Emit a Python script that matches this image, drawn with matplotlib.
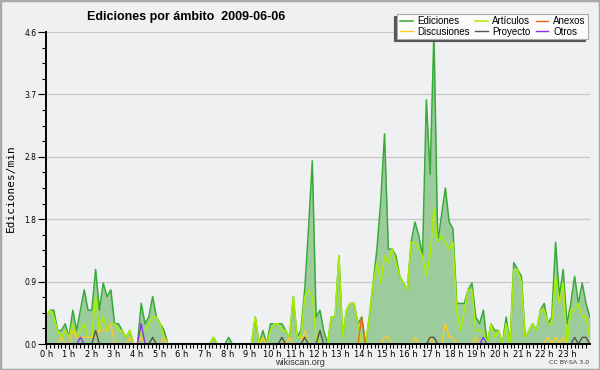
import numpy as np
import matplotlib
matplotlib.use("Agg")
import matplotlib.pyplot as plt
from matplotlib.patches import Rectangle

# edits per minute, one value per 10-minute slot (6 per hour)
ediciones = [
    0.4, 0.5, 0.5, 0.2, 0.2, 0.3,   # 0 h
    0.1, 0.5, 0.2, 0.5, 0.8, 0.5,   # 1 h
    0.5, 1.1, 0.5, 0.9, 0.7, 0.8,   # 2 h
    0.3, 0.3, 0.2, 0.1, 0.2, 0.0,   # 3 h
    0.0, 0.6, 0.3, 0.4, 0.7, 0.4,   # 4 h
    0.3, 0.2, 0.0, 0.0, 0.0, 0.0,   # 5 h
    0.0, 0.0, 0.0, 0.0, 0.0, 0.0,   # 6 h
    0.0, 0.0, 0.1, 0.0, 0.0, 0.0,   # 7 h
    0.1, 0.0, 0.0, 0.0, 0.0, 0.0,   # 8 h
    0.0, 0.4, 0.0, 0.2, 0.0, 0.3,   # 9 h
    0.3, 0.3, 0.3, 0.2, 0.1, 0.7,   # 10 h
    0.1, 0.2, 0.8, 1.7, 2.7, 0.4,   # 11 h
    0.5, 0.2, 0.0, 0.4, 0.4, 1.3,   # 12 h
    0.1, 0.5, 0.6, 0.6, 0.3, 0.4,   # 13 h
    0.0, 0.4, 0.9, 1.4, 2.1, 3.1,   # 14 h
    1.4, 1.4, 1.3, 1.0, 0.9, 0.8,   # 15 h
    1.5, 1.8, 1.6, 1.3, 3.6, 2.5,   # 16 h
    4.6, 1.5, 1.9, 2.3, 1.8, 1.7,   # 17 h
    0.6, 0.6, 0.6, 0.8, 0.9, 0.4,   # 18 h
    0.3, 0.5, 0.0, 0.3, 0.2, 0.2,   # 19 h
    0.0, 0.4, 0.0, 1.2, 1.1, 1.0,   # 20 h
    0.1, 0.2, 0.3, 0.2, 0.5, 0.6,   # 21 h
    0.3, 0.4, 1.5, 0.7, 1.1, 0.3,   # 22 h
    0.6, 1.0, 0.6, 0.9, 0.6, 0.4,   # 23 h
]

articulos = [
    0.4, 0.5, 0.4, 0.2, 0.1, 0.2,
    0.1, 0.3, 0.1, 0.2, 0.3, 0.1,
    0.1, 0.7, 0.2, 0.4, 0.2, 0.3,
    0.3, 0.2, 0.2, 0.1, 0.2, 0.0,
    0.0, 0.2, 0.2, 0.3, 0.4, 0.4,
    0.3, 0.1, 0.0, 0.0, 0.0, 0.0,
    0.0, 0.0, 0.0, 0.0, 0.0, 0.0,
    0.0, 0.0, 0.1, 0.0, 0.0, 0.0,
    0.0, 0.0, 0.0, 0.0, 0.0, 0.0,
    0.0, 0.4, 0.0, 0.1, 0.0, 0.2,
    0.3, 0.3, 0.2, 0.2, 0.1, 0.7,
    0.1, 0.1, 0.7, 0.8, 0.7, 0.1,
    0.0, 0.0, 0.0, 0.4, 0.4, 1.3,
    0.1, 0.5, 0.6, 0.6, 0.3, 0.0,
    0.0, 0.4, 0.9, 1.2, 0.9, 1.3,
    1.2, 1.4, 1.2, 1.0, 0.9, 0.8,
    1.5, 1.5, 1.4, 1.3, 1.0, 1.3,
    2.0, 1.5, 1.6, 1.5, 1.4, 1.5,
    0.5, 0.2, 0.5, 0.8, 0.8, 0.2,
    0.2, 0.2, 0.0, 0.3, 0.1, 0.2,
    0.0, 0.3, 0.0, 1.1, 1.1, 0.9,
    0.1, 0.2, 0.3, 0.2, 0.5, 0.5,
    0.3, 0.3, 1.0, 0.6, 0.9, 0.0,
    0.5, 0.5, 0.6, 0.4, 0.4, 0.1,
]

# sparse series: {slot index: value}
discusiones_pts = {4: 0.1, 7: 0.2, 8: 0.1, 9: 0.1, 10: 0.1, 11: 0.1, 12: 0.1,
                   13: 0.1, 14: 0.2, 15: 0.2, 16: 0.2, 17: 0.3, 22: 0.1, 25: 0.1,
                   31: 0.1, 57: 0.1, 64: 0.1, 68: 0.2, 89: 0.1, 90: 0.1, 97: 0.1,
                   101: 0.1, 105: 0.3, 106: 0.1, 107: 0.1, 113: 0.1, 132: 0.1,
                   134: 0.1, 136: 0.1}
proyecto_pts = {13: 0.2, 28: 0.1, 62: 0.1, 68: 0.1, 72: 0.2, 101: 0.1, 102: 0.1,
                139: 0.1, 141: 0.1, 142: 0.1}
otros_pts = {9: 0.1, 25: 0.3, 115: 0.1}
anexos_pts = {83: 0.4}

hour_labels = [f"{h} h" for h in range(24)]
y_ticks = [0.0, 0.92, 1.84, 2.76, 3.68, 4.6]


def dense(pts):
    v = np.zeros(len(ediciones))
    for k, val in pts.items():
        v[k] = val
    return v


discusiones = dense(discusiones_pts)
proyecto = dense(proyecto_pts)
otros = dense(otros_pts)
anexos = dense(anexos_pts)

t = np.linspace(0, 24, len(ediciones))

bg = "#eff0f1"
fig = plt.figure(figsize=(6, 3.7), dpi=100, facecolor=bg)
ax = fig.add_axes([0.077, 0.07, 0.906, 0.8435])
ax.set_facecolor(bg)

for yv in y_ticks[1:]:
    ax.axhline(yv, color="#c8c8c8", lw=0.9, zorder=0)

ax.fill_between(t, ediciones, color="#9ccb9c", lw=0, zorder=1)
l_ed, = ax.plot(t, ediciones, color="#38aa38", lw=1.1, zorder=2)
l_ar, = ax.plot(t, articulos, color="#aaee00", lw=1.1, zorder=2)
l_di, = ax.plot(t, discusiones, color="#ffc826", lw=1.0, zorder=2)
l_an, = ax.plot(t, anexos, color="#ee6622", lw=1.0, zorder=2)
l_pr, = ax.plot(t, proyecto, color="#555544", lw=1.0, zorder=2)
l_ot, = ax.plot(t, otros, color="#8833ee", lw=1.0, zorder=2)

ax.set_xlim(0, 24)
ax.set_ylim(0, 4.6)
ax.set_xticks(range(24))
ax.set_xticklabels(hour_labels)
ax.set_xticks(np.arange(0, 24, 1 / 6), minor=True)
ax.set_yticks(y_ticks)
ax.set_yticklabels([f"{v:.1f}" for v in y_ticks])
ax.set_yticks(np.linspace(0, 4.6, 21), minor=True)
ax.tick_params(axis="x", which="major", length=3.5, width=0.8, pad=0.5, labelsize=6)
ax.tick_params(axis="x", which="minor", length=3, width=0.8)
ax.tick_params(axis="y", which="major", length=6, width=0.8, pad=1, labelsize=5.5)
ax.tick_params(axis="y", which="minor", length=3, width=0.8)
for s in ["top", "right"]:
    ax.spines[s].set_visible(False)
for s in ["left", "bottom"]:
    ax.spines[s].set_linewidth(1.4)
    ax.spines[s].set_zorder(5)

ax.set_ylabel("Ediciones/min", family="DejaVu Sans Mono", fontsize=8, labelpad=6)

fig.text(0.31, 0.953, "Ediciones por ámbito  2009-06-06", ha="center", va="center",
         fontsize=9, fontweight="bold", family="Liberation Sans")
fig.text(0.5, 0.02, "wikiscan.org", ha="center", va="center", fontsize=6.5,
         family="Liberation Sans", color="#333333")
fig.text(0.982, 0.02, "CC BY-SA 3.0", ha="right", va="center", fontsize=4.5,
         color="#333333")

leg = fig.legend([l_ed, l_di, l_ar, l_pr, l_an, l_ot],
                 ["Ediciones", "Discusiones", "Artículos", "Proyecto", "Anexos", "Otros"],
                 ncol=3, loc="upper right", bbox_to_anchor=(0.988, 0.976),
                 prop={"family": "Liberation Sans", "size": 7},
                 handlelength=1.3, handletextpad=0.5, columnspacing=0.5,
                 labelspacing=0.05, borderpad=0.25, fancybox=False, framealpha=1,
                 shadow={"ox": -2.2, "oy": -1.6, "color": "#555555", "alpha": 1})
leg.get_frame().set_facecolor("#fbfbfb")
leg.get_frame().set_edgecolor("#aaaaaa")
leg.get_frame().set_linewidth(0.8)

fig.patches.append(Rectangle((0, 0), 1, 1, transform=fig.transFigure, fill=False,
                             edgecolor="#a8a8a8", lw=2.5))

fig.savefig("out.png", dpi=100, facecolor=bg)
